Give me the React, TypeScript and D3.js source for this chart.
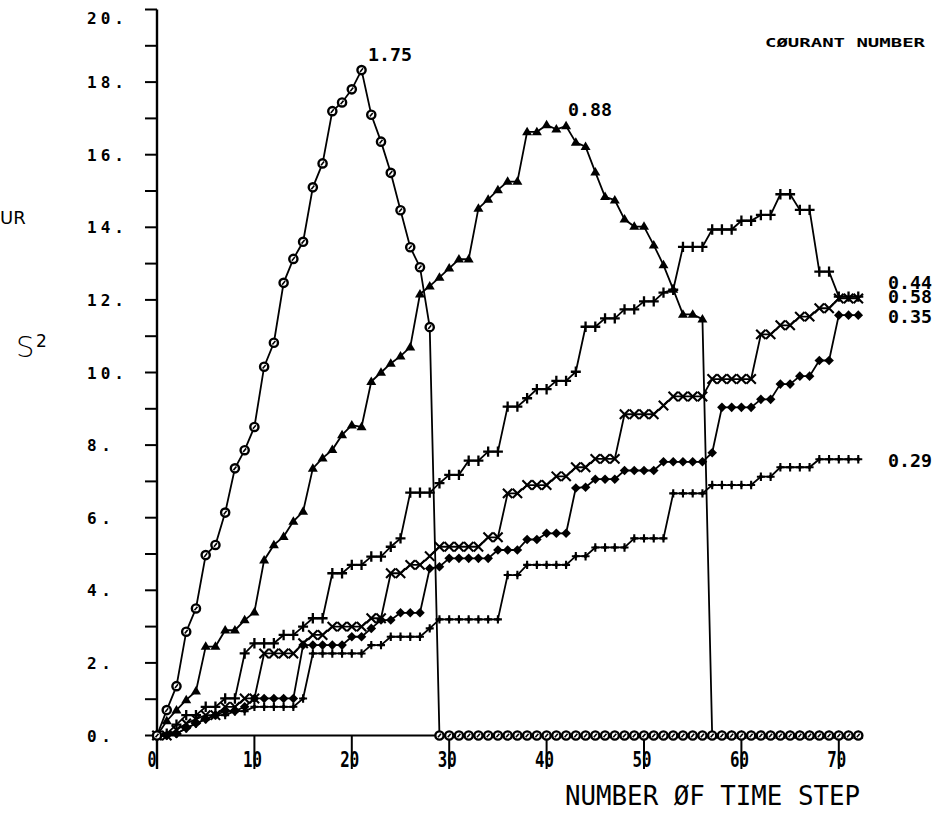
import React from 'react';
import * as d3 from 'd3';

// Courant number labels
const courantLabels = ['1.75', '0.88', '0.44', '0.58', '0.35', '0.29'];

// y axis
const yMinorTicks = [0, 1, 2, 3, 4, 5, 6, 7, 8, 9, 10, 11, 12, 13, 14, 15, 16, 17, 18, 19, 20];
const yTickLabels = [0, 2, 4, 6, 8, 10, 12, 14, 16, 18, 20];
// x axis
const xTickLabels = [0, 10, 20, 30, 40, 50, 60, 70];

// S^2 per time step (index = number of time step, 0..72)
const s175 = [
  0, 0.7, 1.36, 2.86, 3.5, 4.97, 5.25, 6.14, 7.36, 7.86,
  8.5, 10.16, 10.82, 12.47, 13.13, 13.6, 15.1, 15.76, 17.2, 17.44,
  17.8, 18.33, 17.1, 16.36, 15.5, 14.47, 13.45, 12.9, 11.25, 0,
  0, 0, 0, 0, 0, 0, 0, 0, 0, 0,
  0, 0, 0, 0, 0, 0, 0, 0, 0, 0,
  0, 0, 0, 0, 0, 0, 0, 0, 0, 0,
  0, 0, 0, 0, 0, 0, 0, 0, 0, 0,
  0, 0, 0,
];

const s088 = [
  0, 0.4, 0.7, 0.98, 1.22, 2.45, 2.45, 2.9, 2.9, 3.18,
  3.4, 4.83, 5.25, 5.48, 5.9, 6.17, 7.36, 7.64, 7.87, 8.28,
  8.55, 8.5, 9.75, 10.0, 10.25, 10.45, 10.7, 12.16, 12.38, 12.62,
  12.87, 13.12, 13.12, 14.52, 14.77, 15.03, 15.26, 15.26, 16.63, 16.63,
  16.82, 16.7, 16.79, 16.34, 16.22, 15.52, 14.84, 14.75, 14.22, 14.02,
  14.02, 13.51, 12.96, 12.29, 11.6, 11.6, 11.47, 0, 0, 0,
  0, 0, 0, 0, 0, 0, 0, 0, 0, 0,
  0, 0, 0,
];

const s044 = [
  0, 0.05, 0.3, 0.56, 0.56, 0.79, 0.79, 1.02, 1.02, 2.26,
  2.54, 2.54, 2.54, 2.77, 2.77, 3.0, 3.23, 3.23, 4.47, 4.47,
  4.7, 4.7, 4.93, 4.93, 5.2, 5.43, 6.69, 6.69, 6.69, 6.95,
  7.18, 7.18, 7.57, 7.57, 7.82, 7.82, 9.06, 9.06, 9.29, 9.54,
  9.54, 9.77, 9.77, 10.02, 11.26, 11.26, 11.49, 11.49, 11.74, 11.74,
  11.96, 11.96, 12.2, 12.28, 13.46, 13.46, 13.46, 13.94, 13.94, 13.94,
  14.18, 14.18, 14.34, 14.34, 14.91, 14.91, 14.48, 14.48, 12.78, 12.78,
  12.09, 12.09, 12.09,
];

const s058 = [
  0, 0, 0.15, 0.33, 0.45, 0.56, 0.56, 0.79, 0.79, 1.02,
  1.02, 2.26, 2.26, 2.26, 2.26, 2.54, 2.77, 2.77, 3.0, 3.0,
  3.0, 3.0, 3.23, 3.23, 4.47, 4.47, 4.7, 4.7, 4.94, 5.2,
  5.2, 5.2, 5.2, 5.2, 5.46, 5.46, 6.67, 6.67, 6.9, 6.9,
  6.9, 7.14, 7.14, 7.39, 7.39, 7.62, 7.62, 7.62, 8.85, 8.85,
  8.85, 8.85, 9.09, 9.34, 9.34, 9.34, 9.34, 9.82, 9.82, 9.82,
  9.82, 9.82, 11.05, 11.05, 11.3, 11.3, 11.54, 11.54, 11.77, 11.77,
  12.04, 12.04, 12.04,
];

const s035 = [
  0, 0, 0.05, 0.2, 0.33, 0.45, 0.56, 0.67, 0.67, 0.79,
  1.02, 1.02, 1.02, 1.02, 1.02, 2.49, 2.49, 2.49, 2.49, 2.49,
  2.72, 2.72, 2.95, 3.18, 3.18, 3.38, 3.38, 3.38, 4.6, 4.65,
  4.88, 4.88, 4.88, 4.88, 4.88, 5.11, 5.11, 5.11, 5.4, 5.4,
  5.57, 5.57, 5.57, 6.82, 6.84, 7.06, 7.06, 7.06, 7.3, 7.3,
  7.3, 7.3, 7.54, 7.54, 7.54, 7.54, 7.54, 7.79, 9.04, 9.04,
  9.04, 9.04, 9.26, 9.26, 9.68, 9.68, 9.9, 9.9, 10.33, 10.33,
  11.58, 11.58, 11.58,
];

const s029 = [
  0, 0, 0.05, 0.2, 0.33, 0.45, 0.56, 0.56, 0.67, 0.67,
  0.79, 0.79, 0.79, 0.79, 0.79, 1.02, 2.26, 2.26, 2.26, 2.26,
  2.26, 2.26, 2.49, 2.49, 2.72, 2.72, 2.72, 2.72, 2.95, 3.2,
  3.2, 3.2, 3.2, 3.2, 3.2, 3.2, 4.42, 4.42, 4.7, 4.7,
  4.7, 4.7, 4.7, 4.94, 4.94, 5.18, 5.18, 5.18, 5.18, 5.43,
  5.43, 5.43, 5.43, 6.67, 6.67, 6.67, 6.67, 6.9, 6.9, 6.9,
  6.9, 6.9, 7.13, 7.13, 7.39, 7.39, 7.39, 7.39, 7.61, 7.61,
  7.61, 7.61, 7.61,
];

type MarkerKind = 'circle' | 'triangle' | 'plus' | 'x' | 'diamond' | 'smallplus';

function Marker({ kind, cx, cy }: { kind: MarkerKind; cx: number; cy: number }) {
  const k = 'black';
  switch (kind) {
    case 'circle':
      return (
        <g>
          <circle cx={cx} cy={cy} r={4.1} fill="white" stroke={k} strokeWidth={2.4} />
          <line x1={cx - 1.5} y1={cy + 1.8} x2={cx + 1.5} y2={cy - 1.8} stroke={k} strokeWidth={1.6} />
        </g>
      );
    case 'triangle':
      return <path d={`M${cx},${cy - 5.2}L${cx + 5},${cy + 3.3}L${cx - 5},${cy + 3.3}Z`} fill={k} />;
    case 'plus':
      return (
        <path d={`M${cx - 5},${cy}H${cx + 5}M${cx},${cy - 5.2}V${cy + 5.2}`} stroke={k} strokeWidth={2.3} />
      );
    case 'x':
      return (
        <path
          d={`M${cx - 4.7},${cy - 4.7}L${cx + 4.7},${cy + 4.7}M${cx - 4.7},${cy + 4.7}L${cx + 4.7},${cy - 4.7}`}
          stroke={k}
          strokeWidth={2.1}
        />
      );
    case 'diamond':
      return <path d={`M${cx},${cy - 4.8}L${cx + 4.8},${cy}L${cx},${cy + 4.8}L${cx - 4.8},${cy}Z`} fill={k} />;
    case 'smallplus':
      return (
        <g>
          <path d={`M${cx},${cy - 4.2}V${cy + 4.2}M${cx - 4},${cy}H${cx + 4}`} stroke={k} strokeWidth={2.1} />
          <path d={`M${cx},${cy - 2.6}L${cx + 2.6},${cy}L${cx},${cy + 2.6}L${cx - 2.6},${cy}Z`} fill={k} />
        </g>
      );
  }
  return null;
}

export default function App() {
  const x = d3.scaleLinear().domain([0, 72]).range([157, 157 + 72 * 9.74]);
  const y = d3.scaleLinear().domain([0, 20]).range([735.5, 9.5]);
  const line = d3
    .line<number>()
    .x((_, i) => x(i))
    .y((d) => y(d));

  const series: { values: number[]; kind: MarkerKind }[] = [
    { values: s029, kind: 'smallplus' },
    { values: s035, kind: 'diamond' },
    { values: s058, kind: 'x' },
    { values: s044, kind: 'plus' },
    { values: s088, kind: 'triangle' },
    { values: s175, kind: 'circle' },
  ];

  const mono = "'DejaVu Sans Mono', monospace";

  // label positions for courant numbers
  const labelPos: Record<string, [number, number]> = {
    '1.75': [368, 61],
    '0.88': [568, 116],
    '0.44': [888, 289],
    '0.58': [888, 303],
    '0.35': [888, 323],
    '0.29': [888, 467],
  };

  return (
    <svg
      width={938}
      height={814}
      viewBox="0 0 938 814"
      style={{ position: 'absolute', left: 0, top: 0, background: 'white' }}
    >
      <rect x={0} y={0} width={938} height={814} fill="white" />

      {/* Y axis */}
      <line x1={x(0)} y1={y(20)} x2={x(0)} y2={769} stroke="black" strokeWidth={2.4} />
      {yMinorTicks.map((t) => (
        <line key={`yt${t}`} x1={x(0) - 12} x2={x(0)} y1={y(t)} y2={y(t)} stroke="black" strokeWidth={2} />
      ))}
      {yTickLabels.map((t) => {
        const s = `${t}.`;
        return (
          <text
            key={`yl${t}`}
            x={87}
            y={t === 20 ? 24 : y(t) + 6}
            fontFamily={mono}
            fontWeight="bold"
            fontSize={16}
            textLength={s.length === 3 ? 37 : 24}
            lengthAdjust="spacing"
            fill="black"
          >
            {s}
          </text>
        );
      })}

      {/* X axis */}
      <line x1={x(0)} y1={y(0)} x2={x(72)} y2={y(0)} stroke="black" strokeWidth={2} />
      {xTickLabels.map((t) => (
        <line key={`xt${t}`} x1={x(t)} x2={x(t)} y1={y(0)} y2={769} stroke="black" strokeWidth={2} />
      ))}
      {xTickLabels.map((t) => {
        const s = String(t);
        const w = s.length === 1 ? 9 : 19;
        const cx = t === 0 ? x(t) - 5 : x(t) - 2;
        return (
          <text
            key={`xl${t}`}
            x={cx - w / 2}
            y={767}
            fontFamily={mono}
            fontWeight="bold"
            fontSize={21}
            textLength={w}
            lengthAdjust="spacingAndGlyphs"
            fill="black"
          >
            {s}
          </text>
        );
      })}

      {/* Series lines */}
      {series.map((s, i) => (
        <path key={`l${i}`} d={line(s.values) || ''} fill="none" stroke="black" strokeWidth={1.8} />
      ))}
      {/* Series markers */}
      {series.map((s, i) => (
        <g key={`m${i}`}>
          {s.values.map((v, j) => (
            <Marker key={j} kind={s.kind} cx={x(j)} cy={y(v)} />
          ))}
        </g>
      ))}

      {/* Courant number labels */}
      {courantLabels.map((l) => (
        <text
          key={l}
          x={labelPos[l][0]}
          y={labelPos[l][1]}
          fontFamily={mono}
          fontSize={18}
          fontWeight="bold"
          textLength={44}
          lengthAdjust="spacingAndGlyphs"
          fill="black"
        >
          {l}
        </text>
      ))}

      <text
        x={765}
        y={47}
        fontFamily={mono}
        fontWeight="bold"
        fontSize={13}
        textLength={160}
        lengthAdjust="spacingAndGlyphs"
        fill="black"
      >
        CØURANT NUMBER
      </text>

      <text
        x={565}
        y={805}
        fontFamily={mono}
        fontSize={26}
        textLength={295}
        lengthAdjust="spacingAndGlyphs"
        fill="black"
      >
        NUMBER ØF TIME STEP
      </text>

      <text x={0} y={224} fontFamily="'DejaVu Sans', sans-serif" fontSize={18} fill="black">
        UR
      </text>
      <text x={16} y={357} fontFamily="'DejaVu Sans', sans-serif" fontSize={29} fontWeight={300} fill="black">
        S
      </text>
      <text x={36} y={347} fontFamily="'DejaVu Sans', sans-serif" fontSize={17} fill="black">
        2
      </text>
    </svg>
  );
}
